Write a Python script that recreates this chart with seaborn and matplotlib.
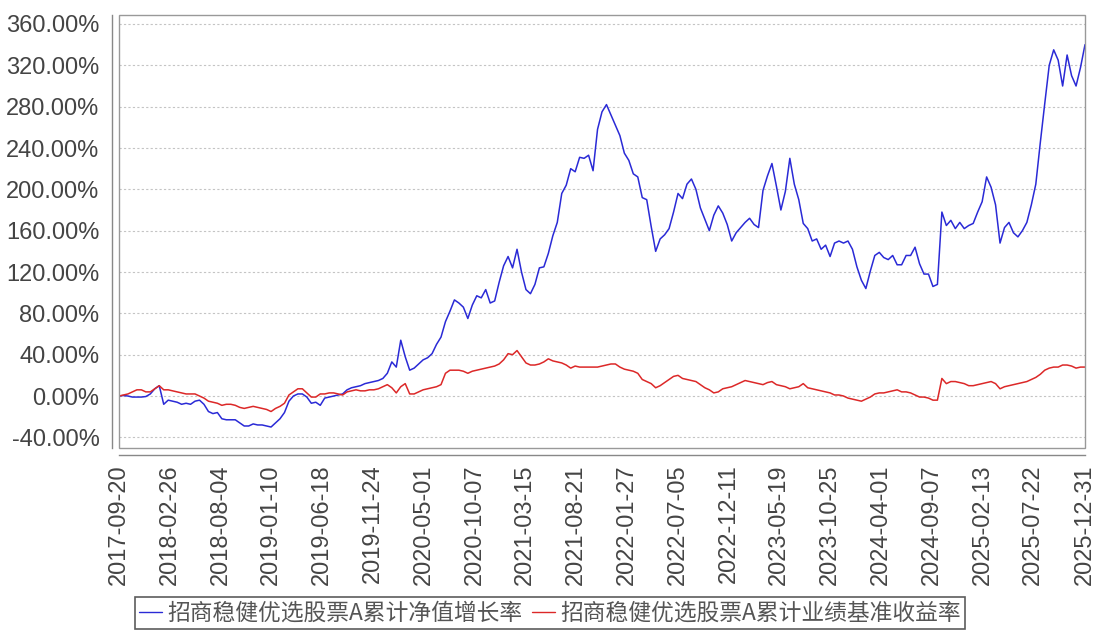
import matplotlib
matplotlib.use("Agg")
import matplotlib.pyplot as plt
import seaborn as sns
import pandas as pd
import numpy as np
from matplotlib.patches import Rectangle

# ---------------- data (14-day samples) ----------------
start_date = "2017-09-20"
n_points = 217

fund_nav = [
    0, 0.5, 0, -1, -1, -1, -0.5, 2, 7, 10,
    -8, -4, -5, -6, -8, -7, -8, -5, -4, -8,
    -15, -17, -16, -22, -23, -23, -23, -26, -29, -29,
    -27, -28, -28, -29, -30, -26, -22, -16, -5, 0,
    2, 2, -1, -7, -6, -9, -2, -1, 0, 1,
    2, 6, 8, 9, 10, 12, 13, 14, 15, 17,
    22, 33, 28, 54, 38, 25, 27, 31, 35, 37,
    41, 50, 57, 72, 82, 93, 90, 86, 75, 88,
    97, 95, 103, 90, 92, 110, 126, 135, 124, 142,
    120, 103, 99, 108, 124, 125, 138, 155, 168, 196,
    204, 220, 217, 231, 230, 233, 218, 258, 275, 282,
    272, 262, 252, 235, 228, 215, 212, 192, 190, 164,
    140, 152, 156, 162, 178, 196, 191, 205, 210, 200,
    182, 171, 160, 175, 184, 177, 166, 150, 158, 163,
    168, 172, 166, 163, 199, 213, 225, 203, 180, 198,
    230, 205, 190, 167, 162, 150, 152, 142, 146, 135,
    148, 150, 148, 150, 142, 125, 112, 104, 121, 136,
    139, 134, 132, 136, 127, 127, 136, 136, 144, 128,
    118, 118, 106, 108, 178, 165, 170, 162, 168, 162,
    165, 167, 178, 188, 212, 202, 185, 148, 163, 168,
    158, 154, 160, 168, 185, 205, 245, 283, 320, 335,
    325, 300, 330, 310, 300, 318, 340,
]

benchmark = [
    0, 1, 2, 4, 6, 6, 4, 4, 7, 10,
    6, 6, 5, 4, 3, 2, 2, 2, 0, -2,
    -5, -6, -7, -9, -8, -8, -9, -11, -12, -11,
    -10, -11, -12, -13, -15, -12, -10, -7, 1, 4,
    7, 7, 3, -1, -1, 2, 2, 3, 3, 2,
    1, 4, 5, 6, 5, 5, 6, 6, 7, 9,
    11, 8, 3, 9, 12, 2, 2, 4, 6, 7,
    8, 9, 11, 22, 25, 25, 25, 24, 22, 24,
    25, 26, 27, 28, 29, 31, 35, 41, 40, 44,
    38, 32, 30, 30, 31, 33, 36, 34, 33, 32,
    30, 27, 29, 28, 28, 28, 28, 28, 29, 30,
    31, 31, 28, 26, 25, 24, 22, 16, 14, 12,
    8, 10, 13, 16, 19, 20, 17, 16, 15, 14,
    11, 8, 6, 3, 4, 7, 8, 9, 11, 13,
    15, 14, 13, 12, 11, 13, 14, 11, 10, 9,
    7, 8, 9, 12, 8, 7, 6, 5, 4, 3,
    1, 1, 0, -2, -3, -4, -5, -3, -1, 2,
    3, 3, 4, 5, 6, 4, 4, 3, 1, -1,
    -1, -2, -4, -4, 17, 12, 14, 14, 13, 12,
    10, 10, 11, 12, 13, 14, 12, 7, 9, 10,
    11, 12, 13, 14, 16, 18, 21, 25, 27, 28,
    28, 30, 30, 29, 27, 28, 28,
]

series_names = ["招商稳健优选股票A累计净值增长率", "招商稳健优选股票A累计业绩基准收益率"]

x_tick_labels = [
    "2017-09-20", "2018-02-26", "2018-08-04", "2019-01-10", "2019-06-18",
    "2019-11-24", "2020-05-01", "2020-10-07", "2021-03-15", "2021-08-21",
    "2022-01-27", "2022-07-05", "2022-12-11", "2023-05-19", "2023-10-25",
    "2024-04-01", "2024-09-07", "2025-02-13", "2025-07-22", "2025-12-31",
]
y_ticks = [-40, 0, 40, 80, 120, 160, 200, 240, 280, 320, 360]

# ---------------- build frame ----------------
dates = pd.date_range(start_date, periods=n_points, freq="14D")
df = pd.DataFrame({
    "date": np.concatenate([dates, dates]),
    "value": fund_nav + benchmark,
    "series": [series_names[0]] * n_points + [series_names[1]] * n_points,
})

sns.set_style("white")
plt.rcParams["font.family"] = ["Liberation Sans", "Noto Sans CJK SC", "DejaVu Sans"]

W, H = 1096, 634
fig = plt.figure(figsize=(W / 100, H / 100), dpi=100)
ax = fig.add_axes([119 / W, 1 - 448 / H, 966 / W, (448 - 15) / H])

palette = {series_names[0]: "#2a2ad6", series_names[1]: "#dc2828"}
sns.lineplot(data=df, x="date", y="value", hue="series", palette=palette,
             linewidth=1.1, ax=ax, legend=True)
handles, labels = ax.get_legend_handles_labels()
ax.get_legend().remove()

# axes limits & ticks
ax.set_xlim(pd.Timestamp(x_tick_labels[0]), pd.Timestamp(x_tick_labels[-1]))
ax.set_ylim(-50.3, 368.7)
ax.set_xticks(pd.to_datetime(x_tick_labels))
ax.set_xticklabels(x_tick_labels)
ax.set_yticks(y_ticks)
ax.set_yticklabels([f"{v:.2f}%" for v in y_ticks])
ax.set_xlabel("")
ax.set_ylabel("")

ax.tick_params(axis="both", which="both", direction="out", length=4, width=0.8,
               color="#777777", labelsize=17, labelcolor="#444444", pad=3)
ax.tick_params(axis="y", pad=5)
ax.tick_params(axis="x", labelrotation=90, pad=3)
for lbl in ax.get_xticklabels():
    lbl.set_rotation(90)
    lbl.set_ha("center")
    lbl.set_va("top")

# grid
ax.yaxis.grid(True, color="#c4c4c4", linestyle=(0, (2, 2)), linewidth=0.8)
ax.xaxis.grid(False)
ax.set_axisbelow(True)

# spines: offset axis lines + inner frame
for side in ["top", "right"]:
    ax.spines[side].set_visible(False)
for side in ["left", "bottom"]:
    ax.spines[side].set_position(("outward", 5))
    ax.spines[side].set_color("#888888")
    ax.spines[side].set_linewidth(1.0)
ax.add_patch(Rectangle((0, 0), 1, 1, transform=ax.transAxes, fill=False,
                       edgecolor="#999999", linewidth=1.0, clip_on=False, zorder=5))

# legend
leg = fig.legend(handles, labels, loc="upper center", bbox_to_anchor=(550 / W, 1 - 597 / H),
                 ncol=2, frameon=True, fancybox=False, shadow=False,
                 prop={"family": ["Noto Sans CJK SC", "DejaVu Sans"], "size": 16.4},
                 handlelength=1.0, handletextpad=0.25, columnspacing=0.4,
                 borderpad=0.2, borderaxespad=0)
leg.get_frame().set_edgecolor("#333333")
leg.get_frame().set_linewidth(1.2)
for t in leg.get_texts():
    t.set_color("#555555")
for h in leg.get_lines():
    h.set_linewidth(1.0)

fig.savefig("out.png", dpi=100)
